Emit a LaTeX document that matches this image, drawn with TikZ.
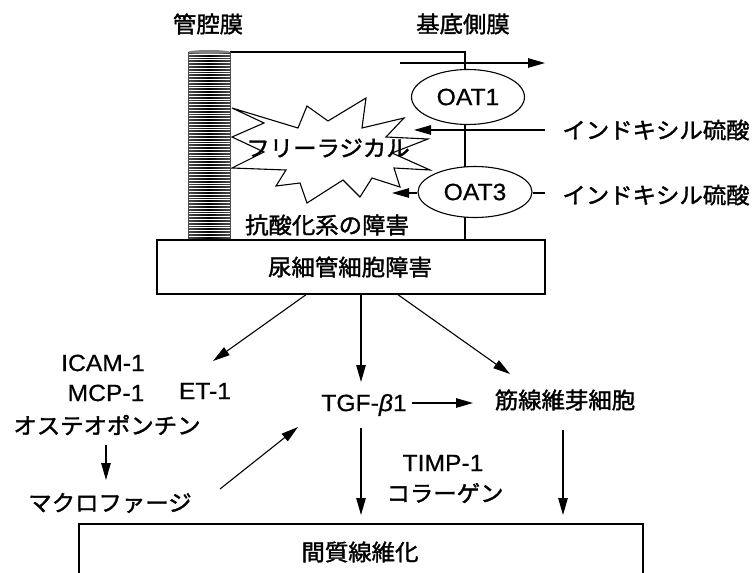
\documentclass[tikz,border=0pt]{standalone}
\usepackage{fontspec}
\setmainfont{Noto Sans CJK JP}[FakeStretch=1.04,FakeBold=1.6]
\newfontfamily\lat{Liberation Sans}[FakeStretch=1.05,FakeBold=0.6]
\usetikzlibrary{arrows.meta,shapes.geometric}
\begin{document}
\begin{tikzpicture}[x=1pt,y=-1pt,
  txt/.style={font=\fontsize{22.5}{24}\selectfont, inner sep=0pt},
  ltxt/.style={font=\fontsize{23.5}{26}\selectfont\lat, inner sep=0pt},
  arr/.style={-{Triangle[length=17pt,width=9.5pt]}, line width=1.1pt},
  ln/.style={line width=1.1pt},
  oval/.style={ellipse, draw, line width=1.1pt, fill=white, inner sep=0pt, font=\fontsize{23.5}{26}\selectfont\lat}]
\useasboundingbox (0,0) rectangle (753,573);
% labels
\node[txt] (lum) at (208,24) {管腔膜};
\node[txt] (bas) at (463,24) {基底側膜};
% cell outline
\coordinate (cTL) at (230,52);
\coordinate (cTR) at (465,52);
\coordinate (cBR) at (465,240);
\draw[ln] (cTL) -- (cTR) -- (cBR);
% brush border column
\shade[left color=black!70, right color=black!70, middle color=black] (188,52) rectangle (230,240);
\foreach \yy in {54,56.8,...,238} \draw[white, line width=0.6pt] (188,\yy) -- (230,\yy);
\draw[black!70, line width=0.6pt] (188,52) rectangle (230,240);
\fill[gray] (209,52) ellipse (21pt and 2pt);
% star
\draw[ln, fill=white] (232,108) -- (298,128) -- (307,106) -- (328,121) -- (366,98) -- (362,128) -- (404,118) -- (386,137) -- (428,139) -- (392,153) -- (430,170) -- (394,168) -- (400,187) -- (372,178) -- (360,197) -- (343,180) -- (307,203) -- (300,183) -- (276,186) -- (286,170) -- (232,168) -- (264,152) -- (232,137) -- (264,123) -- cycle;
\node[txt] (fr) at (328,148) {フリーラジカル};
\node[txt] (ao) at (327,225) {抗酸化系の障害};
% transporters
\node[oval, minimum width=113pt, minimum height=55pt] (oat1) at (468,97) {OAT1};
\node[oval, minimum width=114pt, minimum height=51pt] (oat3) at (475,192) {OAT3};
\coordinate (t1s) at (400,63);
\coordinate (t1e) at (545,63);
\draw[arr] (t1s) -- (t1e);
\node[txt] (ind1) at (656,130) {インドキシル硫酸};
\node[txt] (ind2) at (656,195) {インドキシル硫酸};
\coordinate (a2s) at (545,130);
\coordinate (a2e) at (414,130);
\draw[arr] (a2s) -- (a2e);
\coordinate (a3s) at (545,193);
\coordinate (a3e) at (392,193);
\draw[ln] (oat3.east |- a3s) -- (a3s);
\draw[arr] (oat3.west |- a3s) -- (a3e);
% tubular cell damage box
\node[draw, ln, minimum width=388pt, minimum height=54pt, inner sep=0pt] (rt) at (351,267) {};
\node[txt] (rtt) at (350,267) {尿細管細胞障害};
% lower texts
\node[ltxt] (icam) at (103,363) {ICAM-1};
\node[ltxt] (mcp) at (106,393) {MCP-1};
\node[ltxt] (et) at (205,391) {ET-1};
\node[txt] (osteo) at (107,425) {オステオポンチン};
\node[txt] (macro) at (110,503) {マクロファージ};
\node[ltxt] (tgf) at (364,405) {TGF-{\itshape β}1};
\node[txt] (myo) at (565,400) {筋線維芽細胞};
\node[ltxt] (timp) at (443,463) {TIMP-1};
\node[txt] (col) at (445,493) {コラーゲン};
\node[draw, ln, minimum width=564pt, minimum height=80pt, inner sep=0pt] (fib) at (361,564) {};
\node[txt] (fibt) at (360,552) {間質線維化};
% arrows
\coordinate (s1) at (307,294); \coordinate (e1) at (213,361);
\coordinate (s2) at (361,294); \coordinate (e2) at (361,382);
\coordinate (s3) at (397,294); \coordinate (e3) at (510,374);
\coordinate (s4) at (412,403); \coordinate (e4) at (473,403);
\coordinate (s5) at (106,445); \coordinate (e5) at (106,480);
\coordinate (s6) at (220,489); \coordinate (e6) at (298,427);
\coordinate (s7) at (361,428); \coordinate (e7) at (361,515);
\coordinate (s8) at (563,430); \coordinate (e8) at (563,515);
\draw[arr] (s1) -- (e1);
\draw[arr] (s2) -- (e2);
\draw[arr] (s3) -- (e3);
\draw[arr] (s4) -- (e4);
\draw[arr] (s5) -- (e5);
\draw[arr] (s6) -- (e6);
\draw[arr] (s7) -- (e7);
\draw[arr] (s8) -- (e8);
\end{tikzpicture}
\end{document}
